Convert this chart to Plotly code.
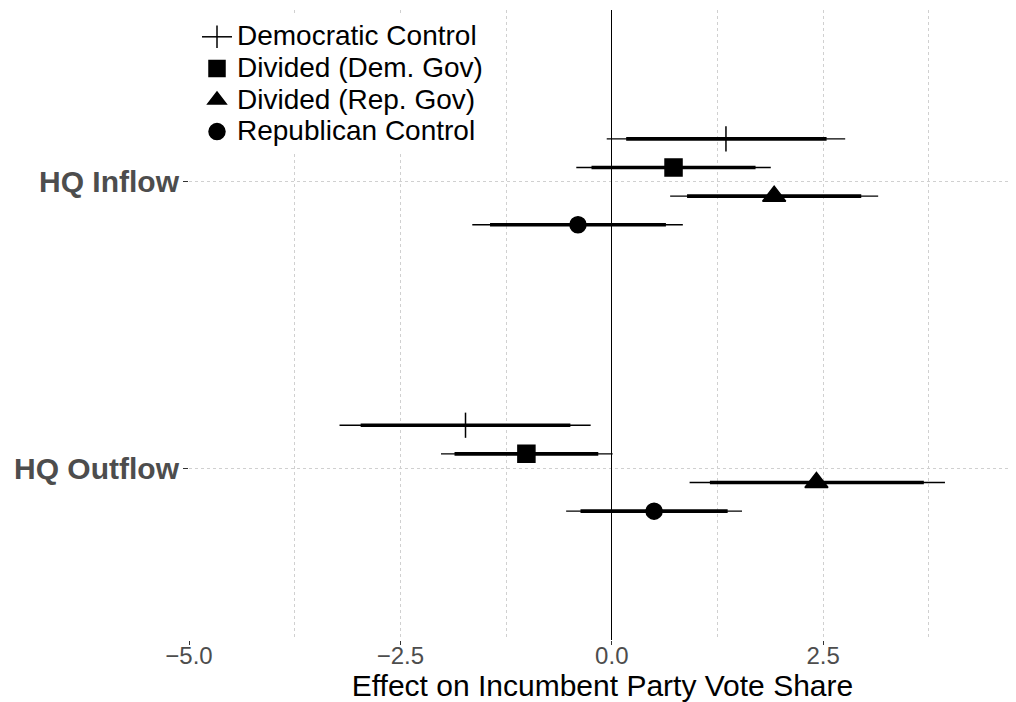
import plotly.graph_objects as go

# ---- data ----
categories = ["HQ Inflow", "HQ Outflow"]
groups = ["Democratic Control", "Divided (Dem. Gov)", "Divided (Rep. Gov)", "Republican Control"]

est_inflow = [1.35, 0.73, 1.92, -0.40]
lo95_inflow = [-0.06, -0.42, 0.69, -1.65]
hi95_inflow = [2.76, 1.88, 3.15, 0.84]
lo90_inflow = [0.17, -0.24, 0.89, -1.44]
hi90_inflow = [2.54, 1.70, 2.95, 0.64]

est_outflow = [-1.73, -1.01, 2.42, 0.50]
lo95_outflow = [-3.22, -2.02, 0.92, -0.54]
hi95_outflow = [-0.25, 0.01, 3.94, 1.54]
lo90_outflow = [-2.97, -1.86, 1.16, -0.37]
hi90_outflow = [-0.49, -0.16, 3.69, 1.37]

# ---- styling ----
symbols = ["line-ns", "square", "triangle-up", "circle"]
sizes = [18, 17, 20, 16]
dodge = [0.15, 0.05, -0.05, -0.15]
cat_pos = [2, 1]  # HQ Inflow on top

fig = go.Figure()

est = [est_inflow, est_outflow]
lo95 = [lo95_inflow, lo95_outflow]
hi95 = [hi95_inflow, hi95_outflow]
lo90 = [lo90_inflow, lo90_outflow]
hi90 = [hi90_inflow, hi90_outflow]

for g, name in enumerate(groups):
    # thin (95%) and thick (90%) interval segments
    for lo, hi, w in ((lo95, hi95, 1.3), (lo90, hi90, 3.6)):
        xs, ys = [], []
        for c in range(len(categories)):
            y = cat_pos[c] + dodge[g]
            xs += [lo[c][g], hi[c][g], None]
            ys += [y, y, None]
        fig.add_trace(go.Scatter(x=xs, y=ys, mode="lines",
                                 line=dict(color="black", width=w),
                                 showlegend=False, hoverinfo="skip"))
    # point estimates
    xs, ys = [], []
    for c in range(len(categories)):
        xs += [est[c][g], None]
        ys += [cat_pos[c] + dodge[g], None]
    fig.add_trace(go.Scatter(
        x=xs, y=ys,
        mode="lines+markers" if symbols[g] == "line-ns" else "markers",
        line=dict(color="black", width=1.5),
        marker=dict(symbol=symbols[g], size=sizes[g], color="black",
                    line=dict(color="black", width=1.5)),
        name='<span style="font-size:28px">' + name + '</span>',
        connectgaps=False,
    ))

grid = "#d0d0d0"
W, H = 1008, 694  # page body has an 8px margin inside the 1016x702 window
L, T, B = 181, 2, 62
fig.update_layout(
    width=W, height=H,
    margin=dict(l=L, r=0, t=T, b=B, pad=0, autoexpand=False),
    paper_bgcolor="white", plot_bgcolor="white",
    font=dict(family="Liberation Sans, Arial, sans-serif", color="black"),
    showlegend=True,
    legend=dict(x=8 / (W - L), y=1 - 6 / (H - T - B), xanchor="left", yanchor="top",
                bgcolor="white", borderwidth=0,
                font=dict(size=22, color="black"),
                itemwidth=30, tracegroupgap=0),
    xaxis=dict(range=[-5, 4.78], tick0=0, dtick=2.5, tickformat=".1f",
               automargin=False,
               showgrid=True, gridcolor=grid, griddash="dot", gridwidth=1,
               minor=dict(tick0=0, dtick=1.25, showgrid=True, gridcolor=grid,
                          griddash="dot", gridwidth=1),
               zeroline=True, zerolinecolor="black", zerolinewidth=1.3,
               showline=False, ticks="outside", ticklen=4, tickcolor="#333333",
               ticklabelstandoff=-10,
               tickfont=dict(size=24, color="#4d4d4d"),
               title=dict(text="Effect on Incumbent Party Vote Share",
                          font=dict(size=30, color="black"), standoff=12)),
    yaxis=dict(range=[0.4, 2.6], tickvals=cat_pos, ticktext=categories,
               automargin=False,
               showgrid=True, gridcolor=grid, griddash="dot", gridwidth=1,
               zeroline=False, showline=False,
               ticks="outside", ticklen=5, tickcolor="#333333",
               ticklabelstandoff=-2,
               tickfont=dict(size=30, color="#4d4d4d",
                             family="Liberation Sans, Arial, sans-serif", weight="bold")),
)

fig.write_html("out.html")
